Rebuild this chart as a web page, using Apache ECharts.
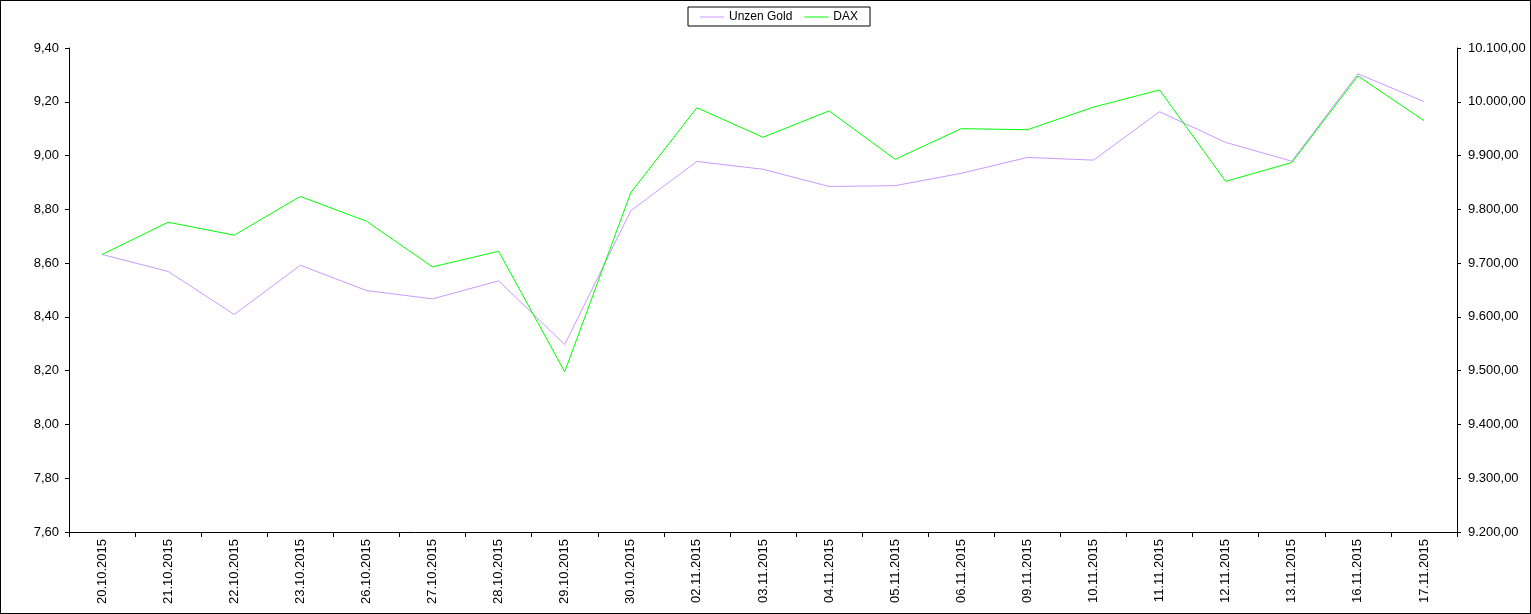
<!DOCTYPE html>
<html><head><meta charset="utf-8">
<script src="https://cdn.jsdelivr.net/npm/echarts@6/dist/echarts.min.js"></script>
<style>html,body{margin:0;padding:0;background:#fff}#c{width:1531px;height:614px;box-sizing:border-box;border:1px solid #000}</style>
</head><body><div id="c"></div>
<script>
const categories = ["20.10.2015","21.10.2015","22.10.2015","23.10.2015","26.10.2015","27.10.2015","28.10.2015","29.10.2015","30.10.2015","02.11.2015","03.11.2015","04.11.2015","05.11.2015","06.11.2015","09.11.2015","10.11.2015","11.11.2015","12.11.2015","13.11.2015","16.11.2015","17.11.2015"];
const goldValues = [8.632,8.569,8.409,8.592,8.498,8.467,8.534,8.297,8.795,8.978,8.949,8.885,8.888,8.934,8.993,8.983,9.163,9.049,8.979,9.304,9.201];
const daxValues = [9716,9776,9752,9824,9778,9693,9722,9498,9831,9989,9934,9983,9893,9950,9948,9990,10022,9852,9887,10048,9965];
const seriesNames = ["Unzen Gold","DAX"];
const leftAxis = {min:7.6,max:9.4,interval:0.2};
const rightAxis = {min:9200,max:10100,interval:100};

const font = "Liberation Sans, Arial, sans-serif";
function deFmt(v, d){
  const s = v.toFixed(d).split('.');
  s[0] = s[0].replace(/\B(?=(\d{3})+(?!\d))/g,'.');
  return s.join(',');
}
const chart = echarts.init(document.getElementById('c'), null, {renderer:'canvas'});
chart.setOption({
  animation:false,
  backgroundColor:'#fff',
  textStyle:{fontFamily:font,color:'#000'},
  legend:{
    top:6, left:687,
    data:seriesNames,
    borderColor:'#000', borderWidth:1, borderRadius:0,
    padding:[4,12,3,12],
    itemGap:12, itemWidth:24, itemHeight:1, icon:'rect',
    textStyle:{fontFamily:font,fontSize:12,color:'#000'}
  },
  grid:{left:68,right:73,top:47,bottom:81,containLabel:false},
  xAxis:{
    type:'category', data:categories, boundaryGap:true,
    axisLine:{lineStyle:{color:'#000',width:1}},
    axisTick:{show:true,length:5,inside:false,lineStyle:{color:'#000'},alignWithLabel:false},
    axisLabel:{rotate:90,margin:7,fontFamily:font,fontSize:13,color:'#000',interval:0},
    splitLine:{show:false}
  },
  yAxis:[{
    type:'value', position:'left', min:leftAxis.min, max:leftAxis.max, interval:leftAxis.interval,
    axisLine:{show:true,lineStyle:{color:'#000'}},
    axisTick:{show:true,length:4,lineStyle:{color:'#000'}},
    axisLabel:{margin:10,fontFamily:font,fontSize:13,color:'#000',formatter:v=>deFmt(v,2)},
    splitLine:{show:false}
  },{
    type:'value', position:'right', min:rightAxis.min, max:rightAxis.max, interval:rightAxis.interval,
    axisLine:{show:true,lineStyle:{color:'#000'}},
    axisTick:{show:true,length:4,lineStyle:{color:'#000'}},
    axisLabel:{margin:11,fontFamily:font,fontSize:13,color:'#000',formatter:v=>deFmt(v,2)},
    splitLine:{show:false}
  }],
  series:[{
    name:seriesNames[0], type:'line', yAxisIndex:0, data:goldValues,
    showSymbol:false, symbol:'none', lineStyle:{color:'#CC99FF',width:1}, itemStyle:{color:'#CC99FF'}
  },{
    name:seriesNames[1], type:'line', yAxisIndex:1, data:daxValues,
    showSymbol:false, symbol:'none', lineStyle:{color:'#00FF00',width:1}, itemStyle:{color:'#00FF00'}
  }]
});
</script></body></html>
